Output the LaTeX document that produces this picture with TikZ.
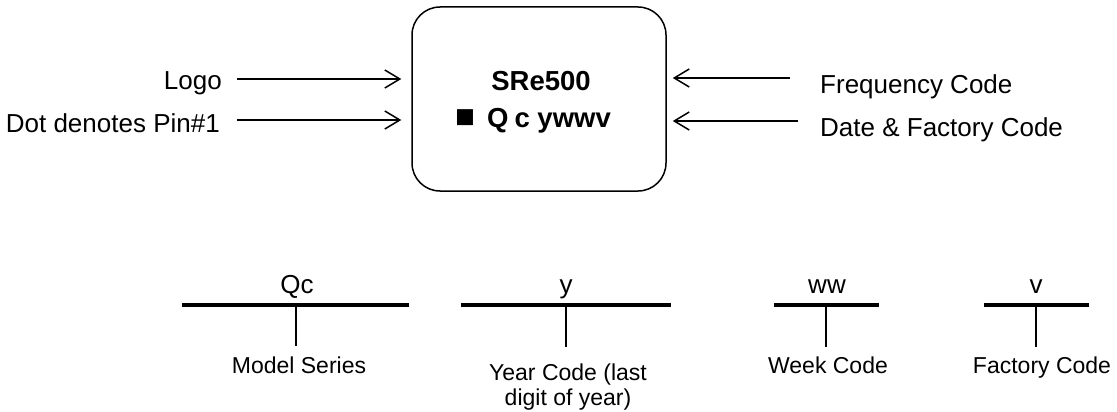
\documentclass[tikz,border=0pt]{standalone}
\usepackage{fontspec}
\setmainfont{Liberation Sans}
\usetikzlibrary{arrows.meta}
\begin{document}
\begin{tikzpicture}[x=1pt,y=-1pt,
  lbl/.style={font=\fontsize{26}{31}\selectfont, inner sep=0pt, anchor=base},
  lblbold/.style={font=\fontsize{27.5}{32}\selectfont\bfseries, inner sep=0pt, anchor=base},
  small/.style={font=\fontsize{23}{25}\selectfont, inner sep=0pt, align=center},
  arr/.style={line width=1.5pt, -{Straight Barb[length=15pt,width=18pt,line width=1.5pt]}},
  chipbox/.style={draw, line width=1.5pt, rounded corners=28pt, minimum width=254pt, minimum height=184pt, inner sep=0pt},
  tbar/.style={line width=3.2pt},
  tstem/.style={line width=2.6pt}]
\useasboundingbox (0,0) rectangle (1117,412);

% chip
\node[chipbox] (chip) at (539,99) {};
\node[lblbold] (name) at (541,91) {SRe500};
\node[lblbold, anchor=base west] (code) at (455,127) {{\fontsize{33}{33}\selectfont ■}\hspace{12pt}Q\hspace{6pt}c ywwv};

% left labels and arrows
\node[lbl, anchor=base east] (logo) at (222,89) {Logo};
\node[lbl, anchor=base east] (dot) at (220,132) {Dot denotes Pin\#1};
\coordinate (a1) at (237,79);
\coordinate (a2) at (237,120);
\draw[arr, shorten >=10pt] (a1) -- (a1 -| chip.west);
\draw[arr, shorten >=10pt] (a2) -- (a2 -| chip.west);

% right labels and arrows
\node[lbl, anchor=base west] (freq) at (820,93) {Frequency Code};
\node[lbl, anchor=base west] (date) at (820,136) {Date \& Factory Code};
\coordinate (a3) at (790,78);
\coordinate (a4) at (798,121);
\draw[arr, shorten >=6pt] (a3) -- (a3 -| chip.east);
\draw[arr, shorten >=6pt] (a4) -- (a4 -| chip.east);

% breakdown T-bars
\node[lbl] (qc) at (297,293) {Qc};
\coordinate (b1l) at (182,305); \coordinate (b1r) at (409,305);
\coordinate (s1t) at (296,305); \coordinate (s1b) at (296,346);
\draw[tbar] (b1l) -- (b1r);
\draw[tstem] (s1t) -- (s1b);
\node[small, anchor=base] (model) at (299,373) {Model Series};

\node[lbl] (yr) at (566,293) {y};
\coordinate (b2l) at (461,305); \coordinate (b2r) at (671,305);
\coordinate (s2t) at (566,305); \coordinate (s2b) at (566,347);
\draw[tbar] (b2l) -- (b2r);
\draw[tstem] (s2t) -- (s2b);
\node[small, anchor=north] (year) at (568,364) {Year Code (last\\digit of year)};

\node[lbl] (ww) at (827,293) {ww};
\coordinate (b3l) at (774,305); \coordinate (b3r) at (879,305);
\coordinate (s3t) at (826,305); \coordinate (s3b) at (826,347);
\draw[tbar] (b3l) -- (b3r);
\draw[tstem] (s3t) -- (s3b);
\node[small, anchor=base] (week) at (828,373) {Week Code};

\node[lbl] (vv) at (1036,293) {v};
\coordinate (b4l) at (984,305); \coordinate (b4r) at (1089,305);
\coordinate (s4t) at (1036,305); \coordinate (s4b) at (1036,347);
\draw[tbar] (b4l) -- (b4r);
\draw[tstem] (s4t) -- (s4b);
\node[small, anchor=base] (fact) at (1042,373) {Factory Code};
\end{tikzpicture}
\end{document}
